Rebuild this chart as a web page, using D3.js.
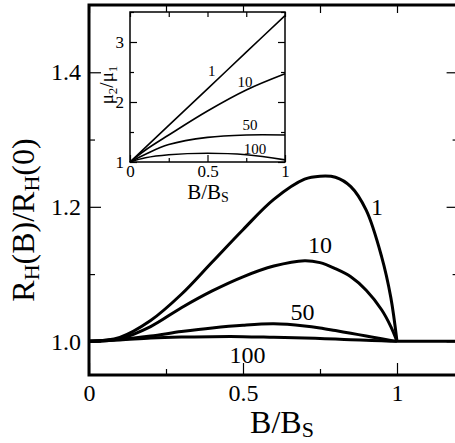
<!DOCTYPE html>
<html>
<head>
<meta charset="utf-8">
<script src="https://cdn.jsdelivr.net/npm/d3@7"></script>
<style>
  body { margin: 0; background: #fff; }
  svg { display: block; }
</style>
</head>
<body>
<svg id="chart" width="455" height="443"></svg>
<script>
// main panel: R_H(B)/R_H(0) vs B/Bs, one curve per mobility ratio
var bMain = [0, 0.1, 0.2, 0.3, 0.4, 0.5, 0.6, 0.7, 0.75, 0.8, 0.85, 0.9, 0.95, 0.98, 1]
var rh1   = [1, 1.006, 1.031, 1.07, 1.118, 1.166, 1.211, 1.241, 1.2455, 1.244, 1.230, 1.195, 1.126, 1.065, 1]
var rh10  = [1, 1.004, 1.022, 1.05, 1.075, 1.096, 1.112, 1.120, 1.117, 1.108, 1.096, 1.076, 1.047, 1.022, 1]
var rh50  = [1, 1.003, 1.008, 1.0145, 1.02, 1.024, 1.026, 1.023, 1.020, 1.016, 1.012, 1.008, 1.004, 1.0015, 1]
var rh100 = [1, 1.002, 1.005, 1.0065, 1.007, 1.007, 1.006, 1.005, 1.0042, 1.0035, 1.0025, 1.0017, 1.0008, 1.0003, 1]
var curveNames = ["1", "10", "50", "100"]

// inset: mu2/mu1 vs B/Bs
var bInset = [0, 0.1, 0.25, 0.5, 0.75, 1]
var mu1   = [1, 1.244, 1.61, 2.22, 2.83, 3.44]
var mu10  = [1, 1.2, 1.45, 1.85, 2.2, 2.47]
var mu50  = [1, 1.13, 1.29, 1.41, 1.45, 1.45]
var mu100 = [1, 1.07, 1.12, 1.145, 1.12, 1.035]

var xMajor = [0, 0.5, 1], xMinor = [0.25, 0.75]
var yMajor = [1.0, 1.2, 1.4], yMinor = [1.1, 1.3]
var inXMajor = [0, 0.5, 1], inXMinor = [0.25, 0.75]
var inYMajor = [1, 2, 3], inYMinor = [1.5, 2.5, 3.5]

var FONT = "'Liberation Serif', 'Times New Roman', serif"
var svg = d3.select("#chart")

// ---- main panel ----
var x = d3.scaleLinear().domain([0, 1.2]).range([89, 458.6])
var y = d3.scaleLinear().domain([0.95, 1.5]).range([375, 5])

function styleAxis(g, size) {
    g.select(".domain").remove()
    g.selectAll("line").attr("stroke", "#000").attr("stroke-width", 1.5)
    g.selectAll("text").attr("font-size", size).attr("fill", "#000")
}

svg.append("g").attr("transform", "translate(0,375)")
    .call(d3.axisBottom(x).tickValues(xMajor).tickSize(-12).tickPadding(9).tickFormat(d3.format("")))
    .call(styleAxis, 24)
svg.append("g").attr("transform", "translate(0,375)")
    .call(d3.axisBottom(x).tickValues(xMinor).tickSize(-6).tickFormat(""))
    .call(styleAxis, 24)
svg.append("g").attr("transform", "translate(0,5)")
    .call(d3.axisTop(x).tickValues(xMajor.concat(xMinor)).tickSize(-8).tickFormat(""))
    .call(styleAxis, 24)
svg.append("g").attr("transform", "translate(89,0)")
    .call(d3.axisLeft(y).tickValues(yMajor).tickSize(-12).tickPadding(8).tickFormat(d3.format(".1f")))
    .call(styleAxis, 24)
svg.append("g").attr("transform", "translate(89,0)")
    .call(d3.axisLeft(y).tickValues(yMinor).tickSize(-6).tickFormat(""))
    .call(styleAxis, 24)
svg.append("g").attr("transform", "translate(458.6,0)")
    .call(d3.axisRight(y).tickValues(yMajor).tickSize(-12).tickFormat(""))
    .call(styleAxis, 24)
svg.append("g").attr("transform", "translate(458.6,0)")
    .call(d3.axisRight(y).tickValues(yMinor).tickSize(-6).tickFormat(""))
    .call(styleAxis, 24)

var line = d3.line()
    .x(function(d) { return x(d[0]) })
    .y(function(d) { return y(d[1]) })
    .curve(d3.curveCatmullRom.alpha(0.5))

var mainSeries = [rh1, rh10, rh50, rh100]
mainSeries.forEach(function(vals) {
    svg.append("path")
        .datum(bMain.map(function(b, i) { return [b, vals[i]] }))
        .attr("d", line)
        .attr("fill", "none").attr("stroke", "#000").attr("stroke-width", 3)
})
// flat part above Bs
svg.append("path")
    .datum([[1, 1], [1.2, 1]])
    .attr("d", line)
    .attr("fill", "none").attr("stroke", "#000").attr("stroke-width", 3)

var mainLabelPos = [[0.935, 1.188], [0.75, 1.131], [0.693, 1.032], [0.515, 0.968]]
curveNames.forEach(function(t, i) {
    svg.append("text")
        .attr("x", x(mainLabelPos[i][0])).attr("y", y(mainLabelPos[i][1]))
        .attr("text-anchor", "middle").attr("font-size", 24)
        .text(t)
})

// frame
svg.append("rect")
    .attr("x", 89).attr("y", 5)
    .attr("width", 458.6 - 89).attr("height", 370)
    .attr("fill", "none").attr("stroke", "#000").attr("stroke-width", 3)

// axis titles
var xt = svg.append("text").attr("x", 282).attr("y", 433)
    .attr("text-anchor", "middle").attr("font-size", 32)
xt.append("tspan").text("B/B")
xt.append("tspan").attr("font-size", 22).attr("dy", 4).text("S")

var yt = svg.append("text")
    .attr("transform", "translate(34,220) rotate(-90)")
    .attr("text-anchor", "middle").attr("font-size", 32)
yt.append("tspan").text("R")
yt.append("tspan").attr("font-size", 22).attr("dy", 5).text("H")
yt.append("tspan").attr("dy", -5).text("(B)/R")
yt.append("tspan").attr("font-size", 22).attr("dy", 5).text("H")
yt.append("tspan").attr("dy", -5).text("(0)")

// ---- inset ----
var ix = d3.scaleLinear().domain([0, 1]).range([130, 285])
var iy = d3.scaleLinear().domain([1, 3.5]).range([162, 12])

svg.append("rect")
    .attr("x", 130).attr("y", 12).attr("width", 155).attr("height", 150)
    .attr("fill", "#fff")

svg.append("g").attr("transform", "translate(0,162)")
    .call(d3.axisBottom(ix).tickValues(inXMajor).tickSize(-7).tickPadding(3).tickFormat(d3.format("")))
    .call(styleAxis, 17)
svg.append("g").attr("transform", "translate(0,162)")
    .call(d3.axisBottom(ix).tickValues(inXMinor).tickSize(-4).tickFormat(""))
    .call(styleAxis, 17)
svg.append("g").attr("transform", "translate(0,12)")
    .call(d3.axisTop(ix).tickValues(inXMajor.concat(inXMinor)).tickSize(-5).tickFormat(""))
    .call(styleAxis, 17)
svg.append("g").attr("transform", "translate(130,0)")
    .call(d3.axisLeft(iy).tickValues(inYMajor).tickSize(-7).tickPadding(6).tickFormat(d3.format("")))
    .call(styleAxis, 17)
svg.append("g").attr("transform", "translate(130,0)")
    .call(d3.axisLeft(iy).tickValues(inYMinor).tickSize(-4).tickFormat(""))
    .call(styleAxis, 17)
svg.append("g").attr("transform", "translate(285,0)")
    .call(d3.axisRight(iy).tickValues(inYMajor).tickSize(-7).tickFormat(""))
    .call(styleAxis, 17)
svg.append("g").attr("transform", "translate(285,0)")
    .call(d3.axisRight(iy).tickValues(inYMinor).tickSize(-4).tickFormat(""))
    .call(styleAxis, 17)
svg.selectAll("g").selectAll("line").attr("stroke-width", 1.2)

var iline = d3.line()
    .x(function(d) { return ix(d[0]) })
    .y(function(d) { return iy(d[1]) })
    .curve(d3.curveCatmullRom.alpha(0.5))

var insetSeries = [mu1, mu10, mu50, mu100]
insetSeries.forEach(function(vals) {
    svg.append("path")
        .datum(bInset.map(function(b, i) { return [b, vals[i]] }))
        .attr("d", iline)
        .attr("fill", "none").attr("stroke", "#000").attr("stroke-width", 1.6)
})

var insetLabelPos = [[0.527, 2.433], [0.742, 2.25], [0.774, 1.533], [0.806, 1.133]]
curveNames.forEach(function(t, i) {
    svg.append("text")
        .attr("x", ix(insetLabelPos[i][0])).attr("y", iy(insetLabelPos[i][1]))
        .attr("text-anchor", "middle").attr("font-size", 15)
        .text(t)
})

svg.append("rect")
    .attr("x", 130).attr("y", 12).attr("width", 155).attr("height", 150)
    .attr("fill", "none").attr("stroke", "#000").attr("stroke-width", 1.5)

var ixt = svg.append("text").attr("x", 208).attr("y", 199)
    .attr("text-anchor", "middle").attr("font-size", 21)
ixt.append("tspan").text("B/B")
ixt.append("tspan").attr("font-size", 14).attr("dy", 3).text("S")

var iyt = svg.append("text")
    .attr("transform", "translate(113,85) rotate(-90)")
    .attr("text-anchor", "middle").attr("font-size", 19)
iyt.append("tspan").text("\u03bc")
iyt.append("tspan").attr("font-size", 13).attr("dy", 4).text("2")
iyt.append("tspan").attr("dy", -4).text("/\u03bc")
iyt.append("tspan").attr("font-size", 13).attr("dy", 4).text("1")

// serif everywhere, as in the original figure
svg.selectAll("text").style("font-family", FONT)
</script>
</body>
</html>
